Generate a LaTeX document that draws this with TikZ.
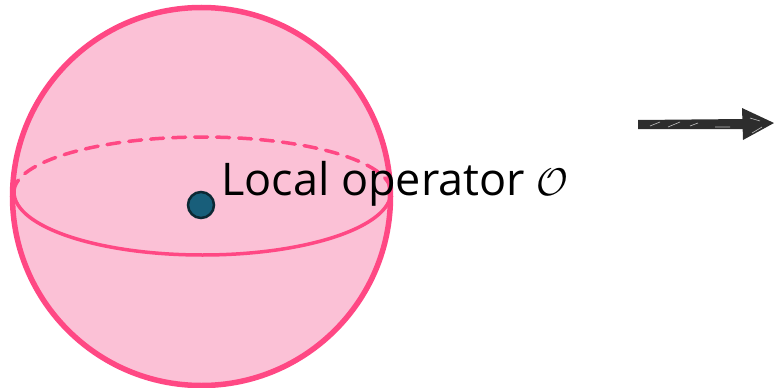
\documentclass[tikz,border=0pt]{standalone}
\usepackage{fontspec}
\setmainfont{Open Sans}
\usepackage{graphicx}
\definecolor{spherefill}{RGB}{251,193,214}
\definecolor{sphereline}{RGB}{255,72,132}
\definecolor{dotfill}{RGB}{24,94,122}
\definecolor{dotline}{RGB}{12,40,52}
\definecolor{sketch}{RGB}{45,45,45}
\tikzset{
  shell/.style={draw=sphereline, line width=5.5pt, fill=spherefill},
  equator/.style={draw=sphereline, line width=3.5pt},
  backrim/.style={equator, dash pattern=on 13pt off 9pt, line cap=round},
  opdot/.style={circle, draw=dotline, line width=2.5pt, fill=dotfill, minimum size=26pt, inner sep=0pt},
  label/.style={font=\fontsize{45}{54}\selectfont, inner sep=0pt, anchor=base west},
}
\begin{document}
\begin{tikzpicture}[x=1pt, y=-1pt]
  \useasboundingbox (0,0) rectangle (774,388);
  % sphere body
  \path[shell] (201.5,196.5) circle (189);
  % equator: hidden half dashed, visible half solid
  \draw[backrim] (14,192) arc[start angle=180, end angle=360, x radius=188.5, y radius=55];
  \draw[equator] (14,192) arc[start angle=180, end angle=0, x radius=188.5, y radius=63];
  % operator insertion
  \node[opdot] (op) at (201,205) {};
  \node[label] (txt) at (221,195) {Local operator \scalebox{1.55}{$\mathcal{O}$}};
  % sketchy arrow
  \coordinate (tail) at (638,124);
  \coordinate (tip) at (774,124);
  \fill[sketch] (638,120) -- (745,119) -- (745,129) -- (638,129) -- cycle;
  \fill[sketch] (742,108) -- (774,123) -- (743,140) -- cycle;
  \draw[white, line width=0.6pt, opacity=0.7]
    (650,126) -- (660,122) (668,127) -- (680,122) (690,126) -- (698,123)
    (715,127) -- (730,127) (750,118) -- (760,121) (752,133) -- (762,127);
\end{tikzpicture}
\end{document}
